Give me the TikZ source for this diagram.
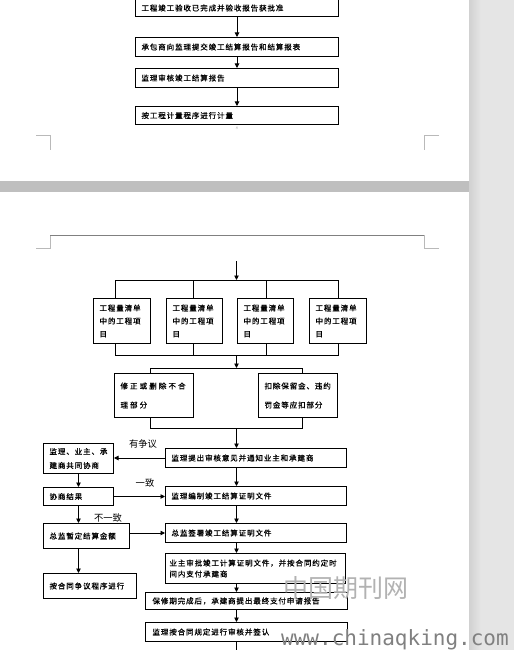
\documentclass[tikz,border=0pt]{standalone}
\usepackage{fontspec}
\newfontfamily\cjk{Noto Sans CJK SC}[LetterSpace=12, FakeBold=0.8]
\newfontfamily\cjkwide{Noto Sans CJK SC}[LetterSpace=28, FakeBold=0.8]
\newfontfamily\cjklabel{Noto Sans CJK SC}
\newfontfamily\wmfont{DejaVu Sans Mono}
\usetikzlibrary{arrows.meta}

\tikzset{
  box/.style={draw, line width=1pt, anchor=north west, inner xsep=6pt, inner ysep=0pt,
    align=left, font=\cjk\fontsize{7.5}{9}\selectfont},
  arr/.style={line width=0.9pt, -{Triangle[length=4.5pt,width=4.5pt]}},
  link/.style={line width=0.9pt},
  tag/.style={font=\cjklabel\fontsize{9.3}{11}\selectfont},
  crop/.style={gray!55, line width=0.6pt},
}

\begin{document}
\begin{tikzpicture}[x=1pt, y=-1pt]

    % page frame
    \useasboundingbox (0,0) rectangle (514,650);
    \fill[white] (0,0) rectangle (469,650);
    \fill[gray!20] (469,0) rectangle (514,650);
    \shade[left color=gray!36, right color=gray!20] (469,0) rectangle (481,650);
    \fill[gray!50] (0,181) rectangle (469,192);

    % crop marks and header line
    \draw[crop] (36,135) -- (50,135) -- (50,150);
    \draw[crop] (439,135) -- (424,135) -- (424,150);
    \draw[crop] (36,248) -- (50,248) -- (50,235);
    \draw[crop] (439,248) -- (424,248) -- (424,235);
    \draw[gray, line width=0.7pt] (50,235) -- (424,235);
    \node[font=\fontsize{4}{4}\selectfont, text=gray!60] (pnum) at (237,128) {8};

    % first page
    \node[box, text width=191pt, minimum height=17pt] (t1) at (135,-1) {工程竣工验收已完成并验收报告获批准};
    \node[box, text width=191pt, minimum height=19pt] (t2) at (135,37) {承包商向监理提交竣工结算报告和结算报表};
    \node[box, text width=191pt, minimum height=19pt] (t3) at (135,68) {监理审核竣工结算报告};
    \node[box, text width=191pt, minimum height=18pt] (t4) at (135,106) {按工程计量程序进行计量};
    \draw[arr] (t1) -- (t2);
    \draw[arr] (t2) -- (t3);
    \draw[arr] (t3) -- (t4);

    % second page: bill items
    \node[box, text width=45pt, minimum height=45pt, font=\cjk\fontsize{7.5}{13}\selectfont] (q1) at (93,298) {工程量清单\\中的工程项\\目};
    \node[box, text width=44pt, minimum height=45pt, font=\cjk\fontsize{7.5}{13}\selectfont] (q2) at (166,298) {工程量清单\\中的工程项\\目};
    \node[box, text width=44pt, minimum height=45pt, font=\cjk\fontsize{7.5}{13}\selectfont] (q3) at (237,298) {工程量清单\\中的工程项\\目};
    \node[box, text width=45pt, minimum height=45pt, font=\cjk\fontsize{7.5}{13}\selectfont] (q4) at (309,298) {工程量清单\\中的工程项\\目};

    \coordinate (in) at (236.5,261);
    \coordinate (tl) at (115,280);
    \coordinate (ta) at (193,280);
    \coordinate (tb) at (266,280);
    \coordinate (tr) at (338,280);
    \draw[arr] (in) -- (in |- tl);
    \draw[link] (tl) -- (tr);
    \draw[link] (tl) -- (tl |- q1.north);
    \draw[link] (ta) -- (ta |- q2.north);
    \draw[link] (tb) -- (tb |- q3.north);
    \draw[link] (tr) -- (tr |- q4.north);

    \coordinate (bl) at (115,355);
    \coordinate (ba) at (193,355);
    \coordinate (bb) at (266,355);
    \coordinate (br) at (338,355);
    \coordinate (bm) at (236.5,355);
    \draw[link] (bl |- q1.south) -- (bl) -- (br) -- (br |- q4.south);
    \draw[link] (ba |- q2.south) -- (ba);
    \draw[link] (bb |- q3.south) -- (bb);

    % corrections
    \node[box, text width=67pt, minimum height=44pt, font=\cjkwide\fontsize{7.5}{19}\selectfont] (a1) at (114,373) {修正或删除不合\\理部分};
    \node[box, text width=67pt, minimum height=44pt, font=\cjk\fontsize{7.5}{19}\selectfont] (a2) at (258,373) {扣除保留金、违约\\罚金等应扣部分};

    \coordinate (sl) at (150,368);
    \coordinate (sr) at (302,368);
    \draw[arr] (bm) -- (bm |- sl);
    \draw[link] (a1.north -| sl) -- (sl) -- (sr) -- (a2.north -| sr);

    \coordinate (ul) at (150,428);
    \coordinate (ur) at (302,428);
    \coordinate (um) at (236.5,428);
    \draw[link] (a1.south -| ul) -- (ul) -- (ur) -- (a2.south -| ur);

    % main column
    \node[box, text width=169pt, minimum height=19pt] (c1) at (165,448) {监理提出审核意见并通知业主和承建商};
    \node[box, text width=169pt, minimum height=19pt] (c2) at (165,486) {监理编制竣工结算证明文件};
    \node[box, text width=169pt, minimum height=19pt] (c3) at (165,523) {总监签署竣工结算证明文件};
    \node[box, text width=172pt, inner xsep=4pt, minimum height=30pt, font=\cjk\fontsize{7.5}{11}\selectfont] (c4) at (165,553) {业主审批竣工计算证明文件，并按合同约定时\\间内支付承建商};
    \node[box, text width=188pt, inner xsep=7pt, minimum height=17pt] (c5) at (145,592) {保修期完成后，承建商提出最终支付申请报告};
    \node[box, text width=188pt, inner xsep=7pt, minimum height=19pt] (c6) at (145,622) {监理按合同规定进行审核并签认};
    \coordinate (foot) at (236.5,656);

    \draw[arr] (um) -- (um |- c1.north);
    \draw[arr] (c1.south -| um) -- (c2.north -| um);
    \draw[arr] (c2.south -| um) -- (c3.north -| um);
    \draw[arr] (c3.south -| um) -- (c4.north -| um);
    \draw[arr] (c4.south -| um) -- (c5.north -| um);
    \draw[arr] (c5.south -| um) -- (c6.north -| um);
    \draw[arr] (c6.south -| um) -- (foot);

    % dispute branch
    \node[box, text width=58pt, minimum height=30pt, font=\cjk\fontsize{7.5}{14}\selectfont] (l1) at (43,443) {监理、业主、承\\建商共同协商};
    \node[box, text width=58pt, minimum height=18pt] (l2) at (43,487) {协商结果};
    \node[box, text width=74pt, minimum height=25pt] (l3) at (43,523) {总监暂定结算金额};
    \node[box, text width=81pt, minimum height=25pt] (l4) at (43,573) {按合同争议程序进行};

    \draw[arr] (c1.west) -- (c1.west -| l1.east);
    \draw[arr] (l2.east) -- (l2.east -| c2.west);
    \draw[arr] (c3.west -| l3.east) -- (c3.west);
    \draw[arr] (l1) -- (l2);
    \draw[arr] (l2.south) -- (l2.south |- l3.north);
    \draw[arr] (l2.south |- l3.south) -- (l2.south |- l4.north);

    \node[tag] (disp) at (143,444) {有争议};
    \node[tag] (agree) at (145,483) {一致};
    \node[tag] (differ) at (108,518) {不一致};

    % watermark
    \node[font=\cjklabel\fontsize{25}{25}\selectfont, text=gray!60] (wm1) at (346,588) {中国期刊网};
    \node[font=\wmfont\fontsize{21}{22}\selectfont, text=gray, anchor=base west, inner sep=0pt] (wm2) at (281,645) {www.chinaqking.com};

\end{tikzpicture}
\end{document}
